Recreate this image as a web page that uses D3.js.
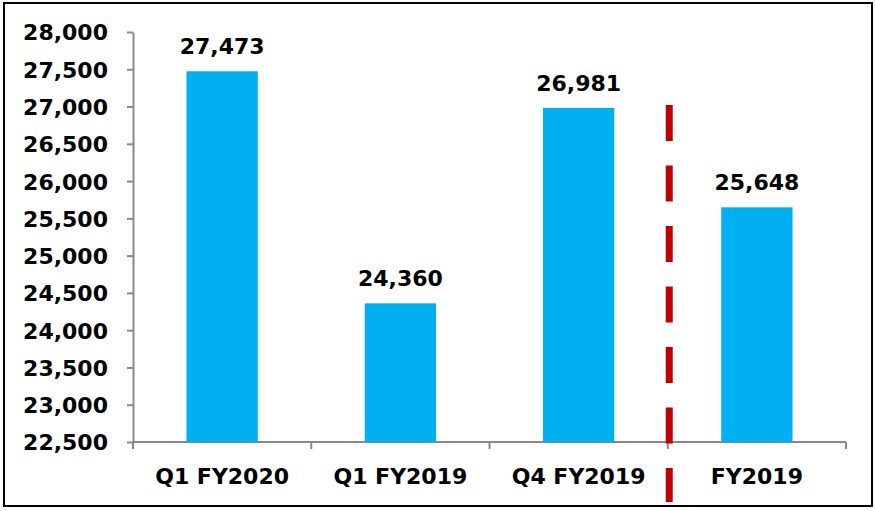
<!DOCTYPE html>
<html>
<head>
<meta charset="utf-8">
<script src="https://cdn.jsdelivr.net/npm/d3@7"></script>
<style>
  body { margin: 0; background: #fff; }
  text { font-family: "DejaVu Sans", Verdana, sans-serif; font-weight: bold; fill: #000; }
</style>
</head>
<body>
<svg width="875" height="511"></svg>
<script>
var categories = ["Q1 FY2020", "Q1 FY2019", "Q4 FY2019", "FY2019"];
var values = [27473, 24360, 26981, 25648];
var yTicks = [22500, 23000, 23500, 24000, 24500, 25000, 25500, 26000, 26500, 27000, 27500, 28000];
var dividerAfter = "Q4 FY2019";
var dividerTop = 27020;

var svgWidth = 875;
var svgHeight = 511;
var margin = { top: 32, right: 29, bottom: 69, left: 133 };

var svg = d3.select("svg");

// outer frame
svg.append("rect")
	.attr("x", 4)
	.attr("y", 3)
	.attr("width", 868)
	.attr("height", 503)
	.attr("fill", "none")
	.attr("stroke", "#000")
	.attr("stroke-width", 2);

var xScale = d3.scaleBand()
	.domain(categories)
	.range([margin.left, svgWidth - margin.right])
	.paddingInner(0.6)
	.paddingOuter(0.3);

var yScale = d3.scaleLinear()
	.domain([22500, 28000])
	.range([svgHeight - margin.bottom, margin.top]);

var fmt = d3.format(",");
var axisColor = "#898989";

// y axis
var yAxis = svg.append("g")
	.attr("transform", "translate(" + margin.left + ",0)")
	.call(d3.axisLeft(yScale).tickValues(yTicks).tickFormat(fmt).tickSize(6).tickSizeOuter(0).tickPadding(19));
yAxis.selectAll("text").style("font-size", "22px").attr("dy", "0.36em");

// x axis with ticks on the band edges
var step = xScale.step();
var xAxisG = svg.append("g")
	.attr("transform", "translate(0," + yScale(22500) + ")");
xAxisG.append("line")
	.attr("x1", margin.left).attr("x2", svgWidth - margin.right);
var edges = categories.map(function(c) { return xScale(c) - xScale.bandwidth() * 0.75; });
edges.push(svgWidth - margin.right);
xAxisG.selectAll("line.edge")
	.data(edges)
	.enter()
	.append("line")
	.attr("class", "edge")
	.attr("x1", function(d) { return d; })
	.attr("x2", function(d) { return d; })
	.attr("y1", 0)
	.attr("y2", 7);
xAxisG.selectAll("text")
	.data(categories)
	.enter()
	.append("text")
	.attr("x", function(d) { return xScale(d) + xScale.bandwidth() / 2; })
	.attr("y", 42)
	.attr("text-anchor", "middle")
	.style("font-size", "22px")
	.text(function(d) { return d; });

svg.selectAll(".domain, .tick line, g line")
	.attr("stroke", axisColor)
	.attr("stroke-width", 2);

// bars
svg.selectAll("rect.bar")
	.data(values)
	.enter()
	.append("rect")
	.attr("class", "bar")
	.attr("x", function(d, i) { return xScale(categories[i]); })
	.attr("y", function(d) { return yScale(d); })
	.attr("width", xScale.bandwidth())
	.attr("height", function(d) { return yScale(22500) - yScale(d); })
	.attr("fill", "#00B0F0");

// value labels
svg.selectAll("text.value")
	.data(values)
	.enter()
	.append("text")
	.attr("class", "value")
	.attr("x", function(d, i) { return xScale(categories[i]) + xScale.bandwidth() / 2; })
	.attr("y", function(d) { return yScale(d) - 17; })
	.attr("text-anchor", "middle")
	.style("font-size", "22px")
	.text(function(d) { return fmt(d); });

// red dashed divider
var divX = xScale(dividerAfter) + xScale.bandwidth() + (step - xScale.bandwidth()) / 2 + 1.5;
svg.append("line")
	.attr("x1", divX)
	.attr("x2", divX)
	.attr("y1", yScale(dividerTop))
	.attr("y2", yScale(22500) + 60)
	.attr("stroke", "#C00000")
	.attr("stroke-width", 7)
	.attr("stroke-dasharray", "36,24.5");
</script>
</body>
</html>
